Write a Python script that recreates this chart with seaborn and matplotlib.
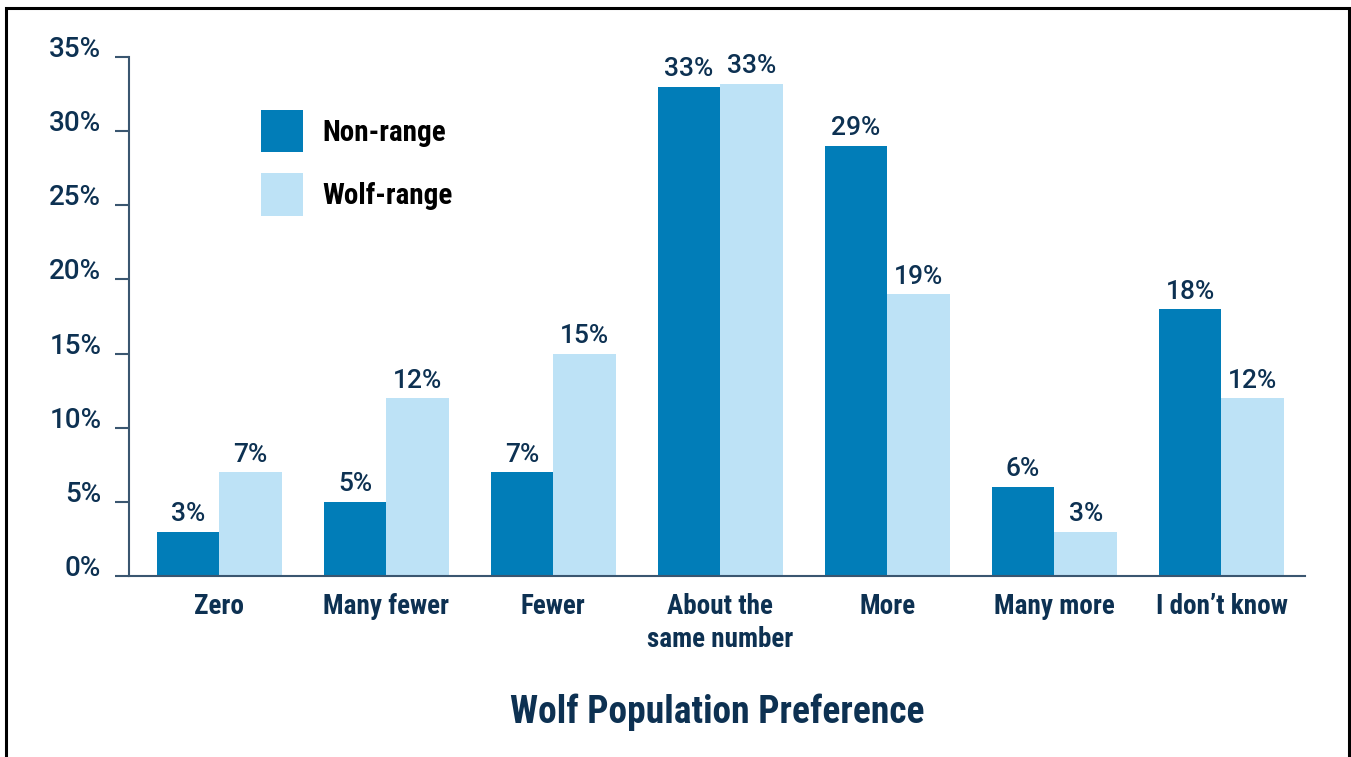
import matplotlib
matplotlib.use("Agg")
import matplotlib.pyplot as plt
import matplotlib.patches as mpatches
from matplotlib.ticker import FuncFormatter
import pandas as pd
import seaborn as sns

# ==================== data ====================
categories = ['Zero', 'Many fewer', 'Fewer', 'About the\nsame number',
              'More', 'Many more', 'I don\u2019t know']
non_range = [3, 5, 7, 33, 29, 6, 18]
wolf_range = [7, 12, 15, 33.2, 19, 3, 12]
groups = ['Non-range', 'Wolf-range']

df = pd.DataFrame({
    'category': categories * 2,
    'value': non_range + wolf_range,
    'group': [groups[0]] * len(categories) + [groups[1]] * len(categories),
})

# ==================== style ====================
sns.set_theme(style='white')
cond = ['Roboto Condensed', 'DejaVu Sans']
wide = ['Roboto', 'DejaVu Sans']
plt.rcParams['font.family'] = cond
navy = '#0d3152'
axis_col = '#3a5670'
colors = {'Non-range': '#017db8', 'Wolf-range': '#bde2f6'}

fig = plt.figure(figsize=(13.51, 7.57), dpi=100)
ax = fig.add_axes([129 / 1351, 1 - 576 / 757, 1176 / 1351, 519 / 757])

sns.barplot(data=df, x='category', y='value', hue='group', order=categories,
            hue_order=groups, palette=colors, width=0.75, saturation=1,
            linewidth=0, ax=ax)

# value labels on top of bars
for cont, vals in zip(ax.containers, [non_range, wolf_range]):
    ax.bar_label(cont, labels=[f'{v:.0f}%' for v in vals], padding=4,
                 fontsize=19, fontweight='medium', color=navy, family=wide)

# ==================== axes ====================
ax.set_ylim(0, 35)
ax.set_xlim(-0.54, len(categories) - 0.5)
ax.set_yticks(range(0, 36, 5))
ax.yaxis.set_major_formatter(FuncFormatter(lambda v, p: f'{v:.0f}%'))
ax.set_xlabel('')
ax.set_ylabel('')
sns.despine(ax=ax)
for side in ['left', 'bottom']:
    ax.spines[side].set_color(axis_col)
    ax.spines[side].set_linewidth(1.5)
ax.tick_params(axis='y', length=10, width=1.5, color=axis_col, pad=10,
               labelsize=20, labelcolor=navy, left=True)
ax.tick_params(axis='x', length=0, pad=12, labelsize=19.5, labelcolor=navy)
for lbl in ax.get_yticklabels():
    lbl.set_family(wide)
    lbl.set_fontweight('medium')
    lbl.set_verticalalignment('baseline')
for lbl in ax.get_xticklabels():
    lbl.set_fontweight('bold')
    lbl.set_linespacing(1.3)

# legend
leg = ax.legend(loc='upper left', bbox_to_anchor=(0.112, 0.897), frameon=False,
                fontsize=21, handlelength=1.44, handleheight=1.84,
                labelspacing=0.72, handletextpad=0.69, borderpad=0,
                borderaxespad=0)
for t in leg.get_texts():
    t.set_color('black')
    t.set_fontweight('bold')

# title below the chart
fig.text(717 / 1351, 1 - 712 / 757, 'Wolf Population Preference',
         ha='center', va='center', fontsize=27, fontweight='bold', color=navy)

# frame around the figure
fig.patches.append(mpatches.Rectangle((6 / 1351, -0.05), 1343 / 1351,
                                      1 - 7.5 / 757 + 0.05,
                                      transform=fig.transFigure, fill=False,
                                      edgecolor='black', linewidth=2.2))

plt.savefig('out.png', dpi=100)
